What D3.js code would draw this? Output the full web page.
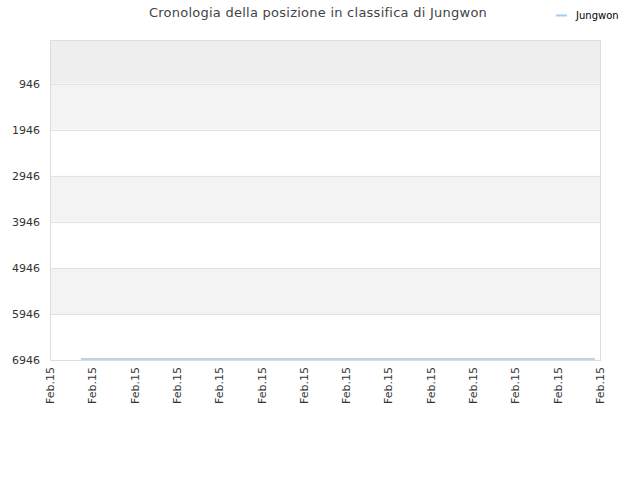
<!DOCTYPE html>
<html><head><meta charset="utf-8">
<script src="https://cdn.jsdelivr.net/npm/d3@7"></script>
<style>body{margin:0;background:#fff;font-family:"DejaVu Sans",sans-serif;}</style>
</head><body><svg id="c" width="640" height="480"></svg>
<script>
const title = "Cronologia della posizione in classifica di Jungwon";
const seriesName = "Jungwon";
const yTicks = [946, 1946, 2946, 3946, 4946, 5946, 6946];
const xTickLabels = ["Feb.15","Feb.15","Feb.15","Feb.15","Feb.15","Feb.15","Feb.15","Feb.15","Feb.15","Feb.15","Feb.15","Feb.15","Feb.15","Feb.15"];
const xTimes = [0.73, 12.88];
const ranks = [6925, 6925];
const bandFills = ["#eeeeee","#f3f3f3","#ffffff","#f3f3f3","#ffffff","#f3f3f3","#ffffff"];

const svg = d3.select("#c");
const L=50, R=600, T=40, B=360;
const x = d3.scaleLinear().domain([0, xTickLabels.length-1]).range([L, R]);
const y = d3.scaleLinear().domain([0, 6946]).range([T, B]);

const bandEdges = [0].concat(yTicks);
svg.selectAll("rect.band").data(bandFills).enter().append("rect")
  .attr("x", L).attr("width", R-L)
  .attr("y", (d,i)=>y(bandEdges[i]))
  .attr("height", (d,i)=>y(bandEdges[i+1])-y(bandEdges[i]))
  .attr("fill", d=>d);

svg.selectAll("line.grid").data(yTicks).enter().append("line")
  .attr("x1", L).attr("x2", R).attr("y1", d=>Math.round(y(d))+0.5).attr("y2", d=>Math.round(y(d))+0.5)
  .attr("stroke", "#e2e2e2");

svg.append("rect").attr("x", L+0.5).attr("y", T+0.5).attr("width", R-L).attr("height", B-T)
  .attr("fill","none").attr("stroke","#dddddd");

svg.selectAll("text.yt").data(yTicks).enter().append("text")
  .attr("x", 40).attr("y", d=>y(d)+4).attr("text-anchor","end")
  .attr("font-size", 11).attr("fill","#333").text(d=>d);

svg.selectAll("text.xt").data(xTickLabels).enter().append("text")
  .attr("transform", (d,i)=>`translate(${x(i)+4},${367}) rotate(-90)`)
  .attr("text-anchor","end").attr("font-size", 11).attr("fill","#333").text(d=>d);

const line = d3.line().x((d,i)=>x(xTimes[i])).y(d=>y(d));
svg.append("path").datum(ranks).attr("d", line).attr("fill","none")
  .attr("stroke","#a6c4e2").attr("stroke-width", 1.5);

svg.append("text").attr("x", 318).attr("y", 17).attr("text-anchor","middle")
  .attr("font-size", 13).attr("letter-spacing", 0.25).attr("fill","#444").text(title);

svg.append("line").attr("x1", 556).attr("x2", 567).attr("y1", 15.5).attr("y2", 15.5)
  .attr("stroke","#a6cbf0").attr("stroke-width", 2);
svg.append("text").attr("x", 576).attr("y", 19).attr("font-size", 10).attr("fill","#000").text(seriesName);
</script></body></html>
